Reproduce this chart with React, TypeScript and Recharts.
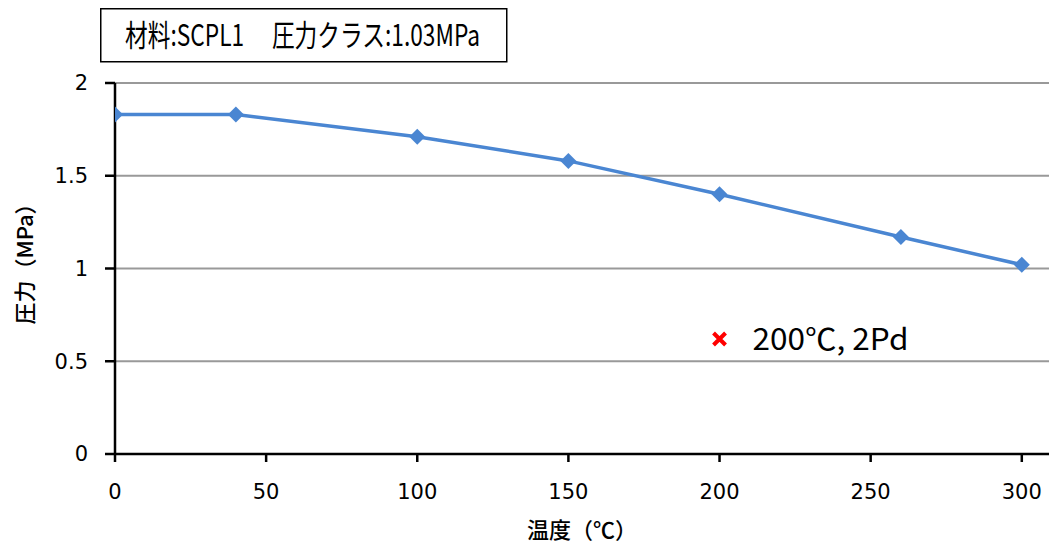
import { XAxis, YAxis, CartesianGrid, Scatter, Line, ComposedChart } from 'recharts';

const temps = [0, 40, 100, 150, 200, 260, 300];
const pressures = [1.83, 1.83, 1.71, 1.58, 1.4, 1.17, 1.02];
const checkPoint = [{ t: 200, p: 0.62 }];
const checkLabel = '200℃, 2Pd';
const xTicks = [0, 50, 100, 150, 200, 250, 300];
const yTicks = [0, 0.5, 1, 1.5, 2];
const titleText = '材料:SCPL1　 圧力クラス:1.03MPa';

const data = temps.map((t, i) => ({ t, p: pressures[i] }));

const jp = '"Noto Sans CJK JP", sans-serif';
const tickFont = { fill: '#000', fontSize: 21, fontFamily: '"DejaVu Sans", sans-serif' };
const blue = '#4a86d2';

const Diamond = (props: any) => {
    const { cx, cy } = props;
    if (cx == null || cy == null) return null;
    const r = 8;
    return <path d={`M${cx},${cy - r}L${cx + r},${cy}L${cx},${cy + r}L${cx - r},${cy}Z`} fill={blue} />;
};

const CrossMark = (props: any) => {
    const { cx, cy } = props;
    if (cx == null || cy == null) return null;
    const r = 6;
    return (
        <g>
            <path d={`M${cx - r},${cy - r}L${cx + r},${cy + r}M${cx + r},${cy - r}L${cx - r},${cy + r}`} stroke="#ff0000" strokeWidth={4} />
            <text x={cx + 33} y={cy + 11} fontSize={30} fontFamily={jp} fill="#000" textLength={156} lengthAdjust="spacingAndGlyphs">
                {checkLabel}
            </text>
        </g>
    );
};

export default function App() {
    return (
        <div style={{ position: 'absolute', left: 0, top: 0, width: 1049, height: 551, background: '#fff' }}>
            <ComposedChart width={1049} height={551} data={data} margin={{ top: 83, right: 0, left: 40, bottom: 40 }}>
                <CartesianGrid vertical={false} stroke="#999" strokeWidth={2} />
                <XAxis
                    dataKey="t"
                    type="number"
                    domain={[0, 309]}
                    ticks={xTicks}
                    allowDataOverflow
                    stroke="#000"
                    strokeWidth={2.5}
                    tickSize={8}
                    tickMargin={22}
                    height={57}
                    tick={tickFont}
                    label={{ value: '温度（℃）', position: 'insideBottom', offset: -27, style: { fontSize: 22, fontWeight: 500, fontFamily: jp, fill: '#000' } }}
                />
                <YAxis
                    type="number"
                    domain={[0, 2]}
                    ticks={yTicks}
                    stroke="#000"
                    strokeWidth={2.5}
                    tickSize={10}
                    tickMargin={17}
                    width={75}
                    tick={tickFont}
                    label={{ value: '圧力（MPa）', angle: -90, position: 'insideLeft', offset: -15, dy: -10, style: { fontSize: 22, fontWeight: 500, fontFamily: jp, fill: '#000', textAnchor: 'middle' } }}
                />
                <Line dataKey="p" stroke={blue} strokeWidth={3.5} dot={<Diamond />} activeDot={false} isAnimationActive={false} />
                <Scatter data={checkPoint} dataKey="p" shape={<CrossMark />} isAnimationActive={false} />
            </ComposedChart>
            <svg width={1049} height={80} style={{ position: 'absolute', left: 0, top: 0 }}>
                <rect x={100.75} y={8.75} width={406} height={53} fill="#fff" stroke="#000" strokeWidth={1.5} />
                <text x={125} y={46} fontSize={30} fontFamily={jp} fill="#000" textLength={355} lengthAdjust="spacingAndGlyphs">
                    {titleText}
                </text>
            </svg>
        </div>
    );
}
